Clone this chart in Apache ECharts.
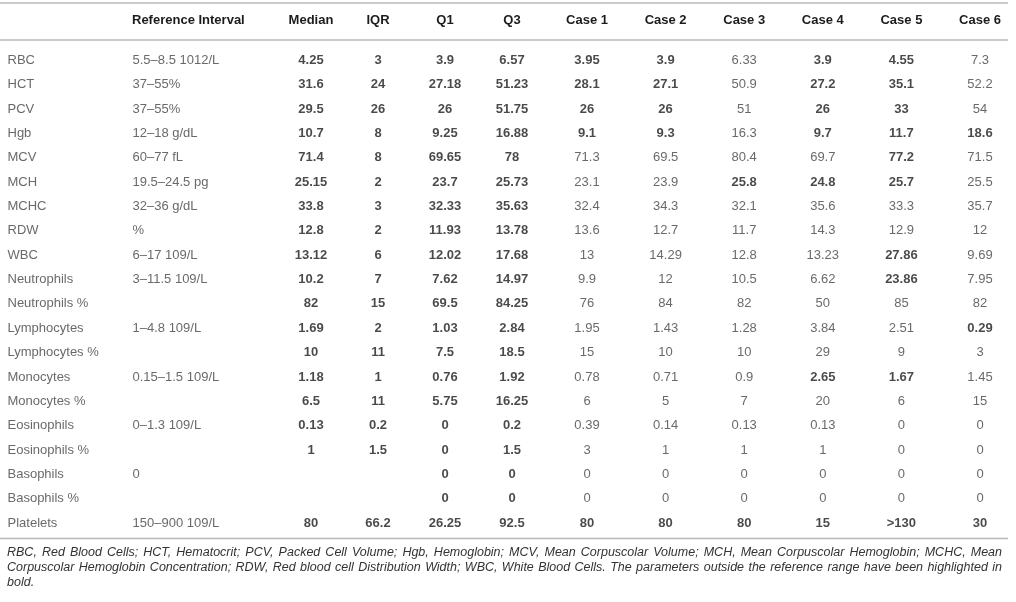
<!DOCTYPE html>
<html>
<head>
<meta charset="utf-8">
<script src="https://cdn.jsdelivr.net/npm/echarts@6/dist/echarts.min.js"></script>
<style>
  html, body { margin: 0; padding: 0; background: #fff; }
  #chart { width: 1016px; height: 602px; }
</style>
</head>
<body>
<div id="chart"></div>
<script>
// ── Table data ───────────────────────────────────────────────────────────
const rowLabels = ['RBC', 'HCT', 'PCV', 'Hgb', 'MCV', 'MCH', 'MCHC', 'RDW', 'WBC', 'Neutrophils',
  'Neutrophils %', 'Lymphocytes', 'Lymphocytes %', 'Monocytes', 'Monocytes %', 'Eosinophils',
  'Eosinophils %', 'Basophils', 'Basophils %', 'Platelets'];

const refInterval = ['5.5–8.5 1012/L', '37–55%', '37–55%', '12–18 g/dL', '60–77 fL', '19.5–24.5 pg',
  '32–36 g/dL', '%', '6–17 109/L', '3–11.5 109/L', '', '1–4.8 109/L', '', '0.15–1.5 109/L', '',
  '0–1.3 109/L', '', '0', '', '150–900 109/L'];

const statColumns = ['Median', 'IQR', 'Q1', 'Q3'];
const caseColumns = ['Case 1', 'Case 2', 'Case 3', 'Case 4', 'Case 5', 'Case 6'];

const median = ['4.25', '31.6', '29.5', '10.7', '71.4', '25.15', '33.8', '12.8', '13.12', '10.2',
  '82', '1.69', '10', '1.18', '6.5', '0.13', '1', '', '', '80'];
const iqr = ['3', '24', '26', '8', '8', '2', '3', '2', '6', '7',
  '15', '2', '11', '1', '11', '0.2', '1.5', '', '', '66.2'];
const q1 = ['3.9', '27.18', '26', '9.25', '69.65', '23.7', '32.33', '11.93', '12.02', '7.62',
  '69.5', '1.03', '7.5', '0.76', '5.75', '0', '0', '0', '0', '26.25'];
const q3 = ['6.57', '51.23', '51.75', '16.88', '78', '25.73', '35.63', '13.78', '17.68', '14.97',
  '84.25', '2.84', '18.5', '1.92', '16.25', '0.2', '1.5', '0', '0', '92.5'];

const case1 = ['3.95', '28.1', '26', '9.1', '71.3', '23.1', '32.4', '13.6', '13', '9.9',
  '76', '1.95', '15', '0.78', '6', '0.39', '3', '0', '0', '80'];
const case2 = ['3.9', '27.1', '26', '9.3', '69.5', '23.9', '34.3', '12.7', '14.29', '12',
  '84', '1.43', '10', '0.71', '5', '0.14', '1', '0', '0', '80'];
const case3 = ['6.33', '50.9', '51', '16.3', '80.4', '25.8', '32.1', '11.7', '12.8', '10.5',
  '82', '1.28', '10', '0.9', '7', '0.13', '1', '0', '0', '80'];
const case4 = ['3.9', '27.2', '26', '9.7', '69.7', '24.8', '35.6', '14.3', '13.23', '6.62',
  '50', '3.84', '29', '2.65', '20', '0.13', '1', '0', '0', '15'];
const case5 = ['4.55', '35.1', '33', '11.7', '77.2', '25.7', '33.3', '12.9', '27.86', '23.86',
  '85', '2.51', '9', '1.67', '6', '0', '0', '0', '0', '>130'];
const case6 = ['7.3', '52.2', '54', '18.6', '71.5', '25.5', '35.7', '12', '9.69', '7.95',
  '82', '0.29', '3', '1.45', '15', '0', '0', '0', '0', '30'];

// 1 = highlighted in bold (outside reference range)
const case1Bold = [1, 1, 1, 1, 0, 0, 0, 0, 0, 0, 0, 0, 0, 0, 0, 0, 0, 0, 0, 1];
const case2Bold = [1, 1, 1, 1, 0, 0, 0, 0, 0, 0, 0, 0, 0, 0, 0, 0, 0, 0, 0, 1];
const case3Bold = [0, 0, 0, 0, 0, 1, 0, 0, 0, 0, 0, 0, 0, 0, 0, 0, 0, 0, 0, 1];
const case4Bold = [1, 1, 1, 1, 0, 1, 0, 0, 0, 0, 0, 0, 0, 1, 0, 0, 0, 0, 0, 1];
const case5Bold = [1, 1, 1, 1, 1, 1, 0, 0, 1, 1, 0, 0, 0, 1, 0, 0, 0, 0, 0, 1];
const case6Bold = [0, 0, 0, 1, 0, 0, 0, 0, 0, 0, 0, 1, 0, 0, 0, 0, 0, 0, 0, 1];

const footnoteLines = [
  'RBC, Red Blood Cells; HCT, Hematocrit; PCV, Packed Cell Volume; Hgb, Hemoglobin; MCV, Mean Corpuscolar Volume; MCH, Mean Corpuscolar Hemoglobin; MCHC, Mean',
  'Corpuscolar Hemoglobin Concentration; RDW, Red blood cell Distribution Width; WBC, White Blood Cells. The parameters outside the reference range have been highlighted in',
  'bold.'
];

// ── Styling ──────────────────────────────────────────────────────────────
const FONT = '"Liberation Sans", Arial, Helvetica, sans-serif';
const BOLD_COLOR = '#1c1c1c';
const TEXT_COLOR = '#444';
const RULE_COLOR = '#b8b8b8';
const FOOT_FONT_SIZE = 12.5;

const chart = echarts.init(document.getElementById('chart'), null, { renderer: 'canvas' });

// one column of cells -> scatter points carrying their text in the label
function cellData(values, colIndex, boldMask) {
  return values.map((text, row) => ({
    value: [colIndex, row],
    label: {
      formatter: text,
      fontWeight: boldMask && boldMask[row] ? 'bold' : 'normal',
      color: boldMask && boldMask[row] ? BOLD_COLOR : TEXT_COLOR,
    },
  }));
}

const allBold = rowLabels.map(() => 1);

const cellSeries = (gridIndex, data, leftAlign) => ({
  type: 'scatter',
  xAxisIndex: gridIndex,
  yAxisIndex: gridIndex,
  symbolSize: 1,
  itemStyle: { color: 'rgba(0,0,0,0)' },
  silent: true,
  data,
  label: {
    show: true,
    position: leftAlign ? 'right' : 'inside',
    distance: 0,
    fontFamily: FONT,
    fontSize: 13,
  },
});

const headerAxis = (gridIndex, cats, align) => ({
  type: 'category',
  gridIndex,
  position: 'top',
  data: cats,
  boundaryGap: false,
  axisLine: { show: false },
  axisTick: { show: false },
  splitLine: { show: false },
  axisLabel: {
    interval: 0,
    margin: 40,
    align,
    verticalAlign: 'middle',
    fontFamily: FONT,
    fontSize: 13,
    fontWeight: 'bold',
    color: BOLD_COLOR,
  },
});

const rowAxis = (gridIndex) => ({
  type: 'category',
  gridIndex,
  inverse: true,
  boundaryGap: false,
  data: rowLabels,
  show: false,
});

// ── Footnote: justified italic lines built word by word ──────────────────
function footnoteGraphics() {
  const ctx = document.createElement('canvas').getContext('2d');
  const font = `italic ${FOOT_FONT_SIZE}px ${FONT}`;
  ctx.font = font;
  const left = 7, right = 1002, top = 553, lineGap = 15;
  const items = [];
  footnoteLines.forEach((line, li) => {
    const words = line.split(' ');
    const justify = li < footnoteLines.length - 1;
    const widths = words.map(w => ctx.measureText(w).width);
    const total = widths.reduce((a, b) => a + b, 0);
    const gap = justify ? (right - left - total) / (words.length - 1) : ctx.measureText(' ').width;
    let x = left;
    words.forEach((w, wi) => {
      items.push({
        type: 'text',
        x, y: top + li * lineGap,
        style: { text: w, font, fill: '#333', verticalAlign: 'middle', align: 'left' },
        silent: true,
      });
      x += widths[wi] + gap;
    });
  });
  return items;
}

const rule = (y) => ({
  type: 'line',
  shape: { x1: 0, y1: y, x2: 1008, y2: y },
  style: { stroke: RULE_COLOR, lineWidth: 1.5 },
  silent: true,
});

const option = {
  animation: false,
  backgroundColor: '#fff',
  grid: [
    { left: 7, width: 125, top: 60.5, bottom: 79 },   // labels + reference interval
    { left: 311, width: 201, top: 60.5, bottom: 79 }, // Median … Q3
    { left: 587, width: 393, top: 60.5, bottom: 79 }, // Case 1 … Case 6
  ],
  xAxis: [
    headerAxis(0, ['', 'Reference Interval'], 'left'),
    headerAxis(1, statColumns, 'center'),
    headerAxis(2, caseColumns, 'center'),
  ],
  yAxis: [rowAxis(0), rowAxis(1), rowAxis(2)],
  series: [
    cellSeries(0, [...cellData(rowLabels, 0, null), ...cellData(refInterval, 1, null)], true),
    cellSeries(1, [median, iqr, q1, q3].flatMap((col, ci) => cellData(col, ci, allBold)), false),
    cellSeries(2, [
      [case1, case1Bold], [case2, case2Bold], [case3, case3Bold],
      [case4, case4Bold], [case5, case5Bold], [case6, case6Bold],
    ].flatMap(([col, mask], ci) => cellData(col, ci, mask)), false),
  ],
  graphic: [rule(3), rule(40), rule(538.5), ...footnoteGraphics()],
};

chart.setOption(option);
</script>
</body>
</html>
